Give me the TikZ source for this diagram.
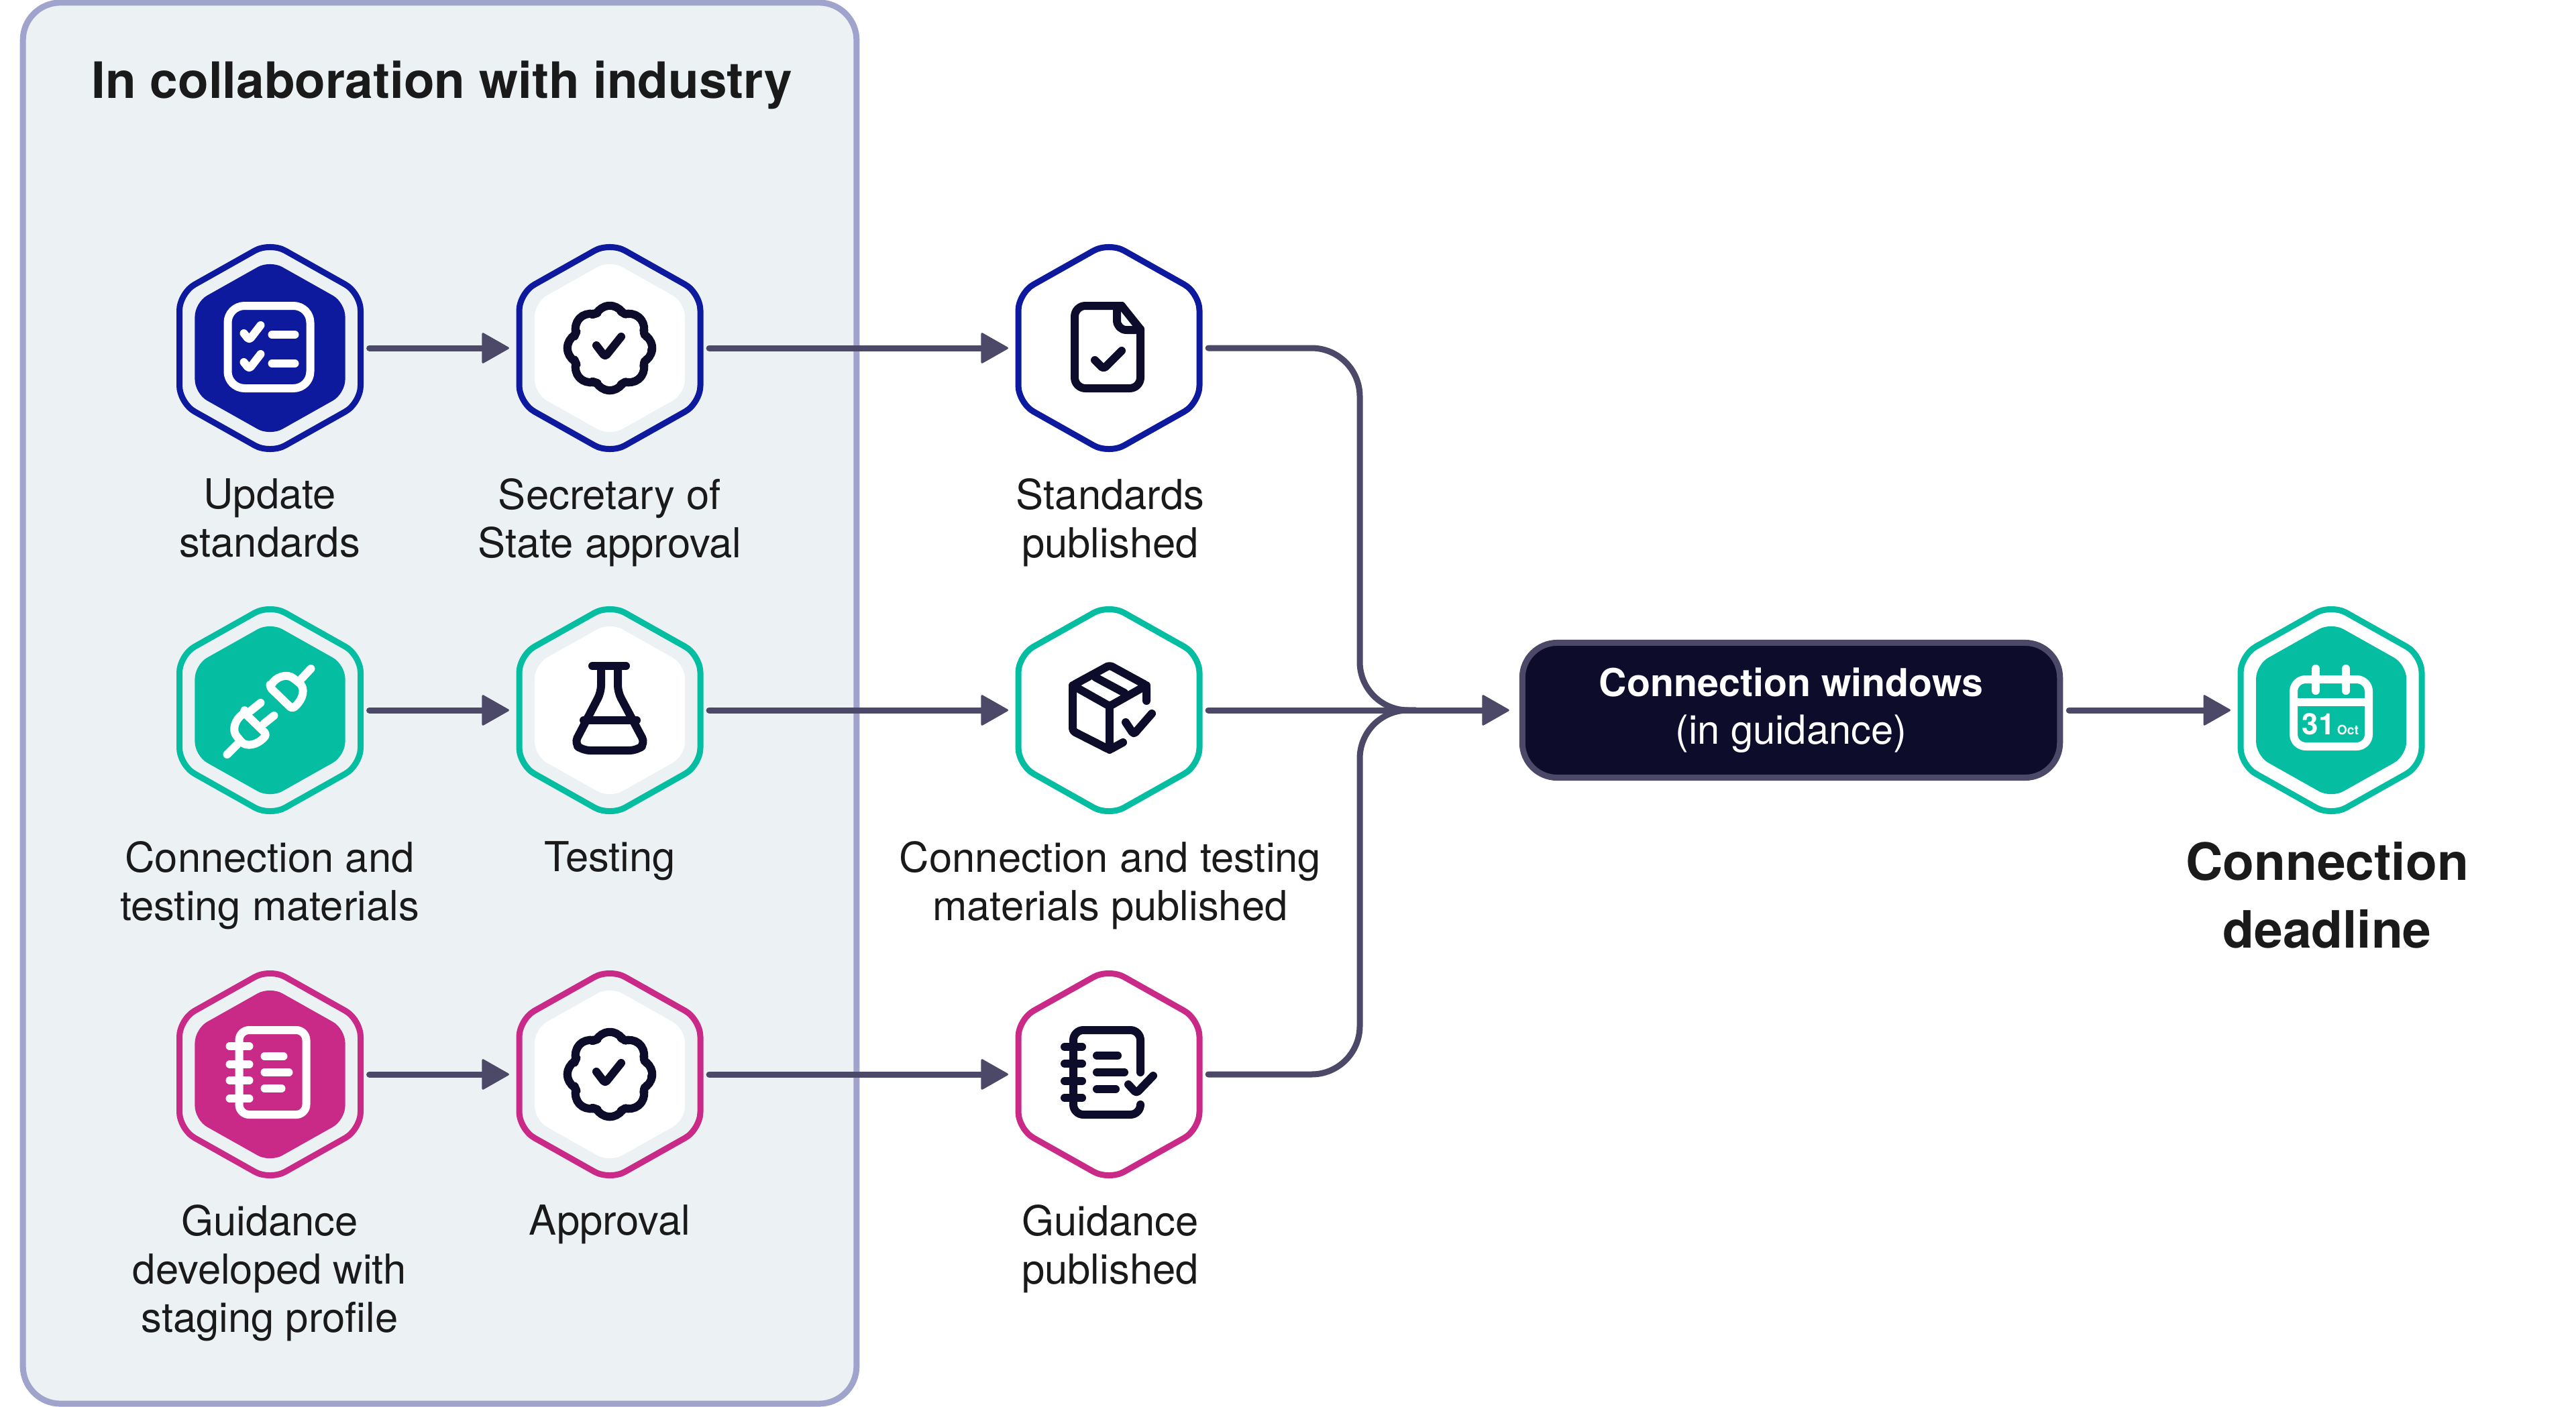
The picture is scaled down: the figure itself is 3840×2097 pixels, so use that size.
\documentclass[tikz,border=0pt]{standalone}
\usepackage{fontspec}
\setmainfont{TeX Gyre Heros}
\usetikzlibrary{arrows.meta}

\definecolor{panelfill}{HTML}{ECF1F4}
\definecolor{paneledge}{HTML}{A0A3CC}
\definecolor{navy}{HTML}{0D1A9E}
\definecolor{teal}{HTML}{05BDA1}
\definecolor{pink}{HTML}{C92A87}
\definecolor{ink}{HTML}{0E0C2B}
\definecolor{wire}{HTML}{4B4868}
\definecolor{words}{HTML}{1A1A1A}

\newcommand{\hexshape}{(0,-158) -- (135,-82) -- (135,82) -- (0,158) -- (-135,82) -- (-135,-82) -- cycle}
\newcommand{\badgeicon}{
	\draw [icon, ink] plot [smooth cycle, samples=73, domain=0:355, variable=\t] (\t:{55+8*abs(cos(4*\t))});
	\draw [icon, ink] (-20,-4) -- (-7,13) -- (17,-17);
}

\begin{document}
\begin{tikzpicture}[x=0.01cm, y=-0.01cm]
	\tikzstyle{panelbox} = [draw=paneledge, fill=panelfill, line width=0.09cm, rounded corners=0.56cm, minimum width=12.42cm, minimum height=20.88cm]
	\tikzstyle{hexbox} = [inner sep=0, outer sep=0, minimum width=2.78cm, minimum height=3.1cm]
	\tikzstyle{hexline} = [line width=0.09cm, rounded corners=0.26cm]
	\tikzstyle{hexcore} = [scale=0.83, rounded corners=0.21cm]
	\tikzstyle{icon} = [line width=0.12cm, line cap=round, line join=round, rounded corners=0.04cm]
	\tikzstyle{step label} = [anchor=north, align=center, inner sep=0, text=words, font=\fontsize{17.5}{20.5}\selectfont]
	\tikzstyle{wireline} = [wire, line width=0.09cm, line cap=round]
	\tikzstyle{wirearrow} = [wireline, -{Triangle[length=0.42cm, width=0.47cm, line width=0.03cm, round]}, shorten <=0.09cm, shorten >=0.11cm]

	\useasboundingbox (0,0) rectangle (3840,2097);

	\node (panel) [panelbox] at (655.5, 1048.5) {};
	\node (title) [anchor=base west, inner sep=0, text=words, font=\fontsize{21.25}{26}\selectfont\bfseries] at (136, 147) {In collaboration with industry};

	\node (s1) [hexbox] at (402.5, 519) {};
	\node (s2) [hexbox] at (909, 519) {};
	\node (s3) [hexbox] at (1653, 519) {};
	\node (c1) [hexbox] at (402.5, 1059) {};
	\node (c2) [hexbox] at (909, 1059) {};
	\node (c3) [hexbox] at (1653, 1059) {};
	\node (g1) [hexbox] at (402.5, 1602) {};
	\node (g2) [hexbox] at (909, 1602) {};
	\node (g3) [hexbox] at (1653, 1602) {};
	\node (end) [hexbox] at (3475, 1059) {};

	\node (windows) [draw=wire, fill=ink, text=white, line width=0.09cm, rounded corners=0.52cm, minimum width=8.01cm, minimum height=2.01cm, align=center, font=\fontsize{17}{20.2}\selectfont] at (2670, 1059) {\fontsize{16.3}{20.2}\selectfont\bfseries Connection windows\\(in guidance)};

	\coordinate (trunk) at (2027, 1059);
	\coordinate (merge) at (2110, 1059);

	\foreach \n/\c in {s1/navy, s2/navy, s3/navy, c1/teal, c2/teal, c3/teal, g1/pink, g2/pink, g3/pink, end/teal}
		\draw [hexline, draw=\c, shift={(\n)}] \hexshape;
	\foreach \n/\c in {s1/navy, c1/teal, g1/pink, end/teal}
		\fill [hexcore, fill=\c, shift={(\n)}] \hexshape;
	\foreach \n in {s2, c2, g2}
		\fill [hexcore, fill=white, shift={(\n)}] \hexshape;

	\draw [wirearrow] (s1) -- (s2);
	\draw [wirearrow] (s2) -- (s3);
	\draw [wirearrow] (c1) -- (c2);
	\draw [wirearrow] (c2) -- (c3);
	\draw [wirearrow] (g1) -- (g2);
	\draw [wirearrow] (g2) -- (g3);
	\draw [wireline, rounded corners=0.72cm, shorten <=0.09cm] (s3) -| (trunk) -- (merge);
	\draw [wireline, rounded corners=0.72cm, shorten <=0.09cm] (g3) -| (trunk) -- (merge);
	\draw [wirearrow, shorten >=0.15cm] (c3) -- (windows);
	\draw [wirearrow] (windows) -- (end);

	\node (s1text) [step label] at (402, 713) {Update\\standards};
	\node (s2text) [step label] at (909, 713) {Secretary of\\State approval};
	\node (s3text) [step label] at (1655, 713) {Standards\\published};
	\node (c1text) [step label] at (402, 1254) {Connection and\\testing materials};
	\node (c2text) [step label] at (909, 1254) {Testing};
	\node (c3text) [step label] at (1655, 1254) {Connection and testing\\materials published};
	\node (g1text) [step label] at (402, 1796) {Guidance\\developed with\\staging profile};
	\node (g2text) [step label] at (909, 1796) {Approval};
	\node (g3text) [step label] at (1655, 1796) {Guidance\\published};
	\node (endtext) [anchor=north, align=center, inner sep=0, text=words, font=\fontsize{21.8}{28.7}\selectfont\bfseries] at (3469, 1255) {Connection\\deadline};

	\begin{scope}[shift={(s1)}]
		\draw [icon, white, rounded corners=0.25cm] (-63,-63) rectangle (60,60);
		\draw [icon, white] (-39,-22) -- (-31,-12) -- (-14,-34);
		\draw [icon, white] (3,-20) -- (37,-20);
		\draw [icon, white] (-39,21) -- (-31,31) -- (-14,9);
		\draw [icon, white] (3,23) -- (37,23);
	\end{scope}
	\begin{scope}[shift={(s2)}]
		\badgeicon
	\end{scope}
	\begin{scope}[shift={(s3)}]
		\draw [icon, ink, rounded corners=0.16cm] (19,-63) -- (-51,-63) -- (-51,60) -- (47,60) -- (47,-28);
		\draw [icon, ink] (47,-28) -- (19,-63);
		\draw [icon, ink, rounded corners=0.14cm] (12,-63) -- (12,-27) -- (47,-27);
		\draw [icon, ink] (-21,18) -- (-8,31) -- (19,4);
	\end{scope}
	\begin{scope}[shift={(c1)}]
		\draw [icon, white] (0,-34) -- (33,-2) .. controls (50,-16) and (54,-34) .. (39,-44) .. controls (26,-56) and (8,-50) .. cycle;
		\draw [icon, white] (47,-47) -- (61,-62);
		\draw [icon, white] (-38,4) -- (-5,36) .. controls (-18,52) and (-36,56) .. (-46,43) .. controls (-58,30) and (-52,14) .. cycle;
		\draw [icon, white] (-49,51) -- (-64,66);
		\draw [icon, white] (-29,1) -- (-14,-11);
		\draw [icon, white] (-9,20) -- (6,8);
	\end{scope}
	\begin{scope}[shift={(c2)}]
		\draw [icon, ink] (-26,-66) -- (24,-66);
		\draw [icon, ink, rounded corners=0.1cm] (-13,-66) -- (-13,-27) -- (-53,50) -- (-40,60) -- (40,60) -- (53,50) -- (12,-27) -- (12,-66);
		\draw [icon, ink] (-39,15) -- (40,15);
	\end{scope}
	\begin{scope}[shift={(c3)}]
		\draw [icon, ink] (56,-14) -- (56,-37) -- (1,-67) -- (-54,-37) -- (-54,31) -- (1,59) -- (21,48);
		\draw [icon, ink] (-54,-37) -- (1,-6) -- (56,-37);
		\draw [icon, ink] (1,-6) -- (1,59);
		\draw [icon, ink] (-20,-49) -- (23,-26);
		\draw [icon, ink] (25,18) -- (37,36) -- (64,5);
	\end{scope}
	\begin{scope}[shift={(g1)}]
		\draw [icon, white, rounded corners=0.15cm] (-46,-66) rectangle (54,60);
		\foreach \y in {-42, -15, 9, 36}
			\draw [icon, white] (-60,\y) -- (-31,\y);
		\draw [icon, white] (-8,-27) -- (20,-27);
		\draw [icon, white] (-8,-3) -- (28,-3);
		\draw [icon, white] (-8,21) -- (17,21);
	\end{scope}
	\begin{scope}[shift={(g2)}]
		\badgeicon
	\end{scope}
	\begin{scope}[shift={(g3)}]
		\draw [icon, ink, rounded corners=0.15cm] (47,-3) -- (47,-66) -- (-53,-66) -- (-53,60) -- (47,60) -- (47,47);
		\foreach \y in {-41, -16, 10, 35}
			\draw [icon, ink] (-66,\y) -- (-40,\y);
		\draw [icon, ink] (-18,-28) -- (13,-28);
		\draw [icon, ink] (-18,-3) -- (23,-3);
		\draw [icon, ink] (-18,22) -- (10,22);
		\draw [icon, ink] (29,15) -- (41,28) -- (66,2);
	\end{scope}
	\begin{scope}[shift={(end)}]
		\draw [icon, white, rounded corners=0.18cm] (-56,-46) rectangle (56,54);
		\draw [icon, white] (-23,-62) -- (-23,-29);
		\draw [icon, white] (22,-62) -- (22,-29);
		\draw [icon, white, line cap=butt] (-56,-12) -- (56,-12);
		\node (day) [anchor=base west, inner sep=0, text=white, font=\fontsize{12.5}{14}\selectfont\bfseries] at (-44,36) {31};
		\node (month) [anchor=base west, inner sep=0, text=white, font=\fontsize{5.5}{7}\selectfont\bfseries] at (8,36) {Oct};
	\end{scope}
\end{tikzpicture}
\end{document}
